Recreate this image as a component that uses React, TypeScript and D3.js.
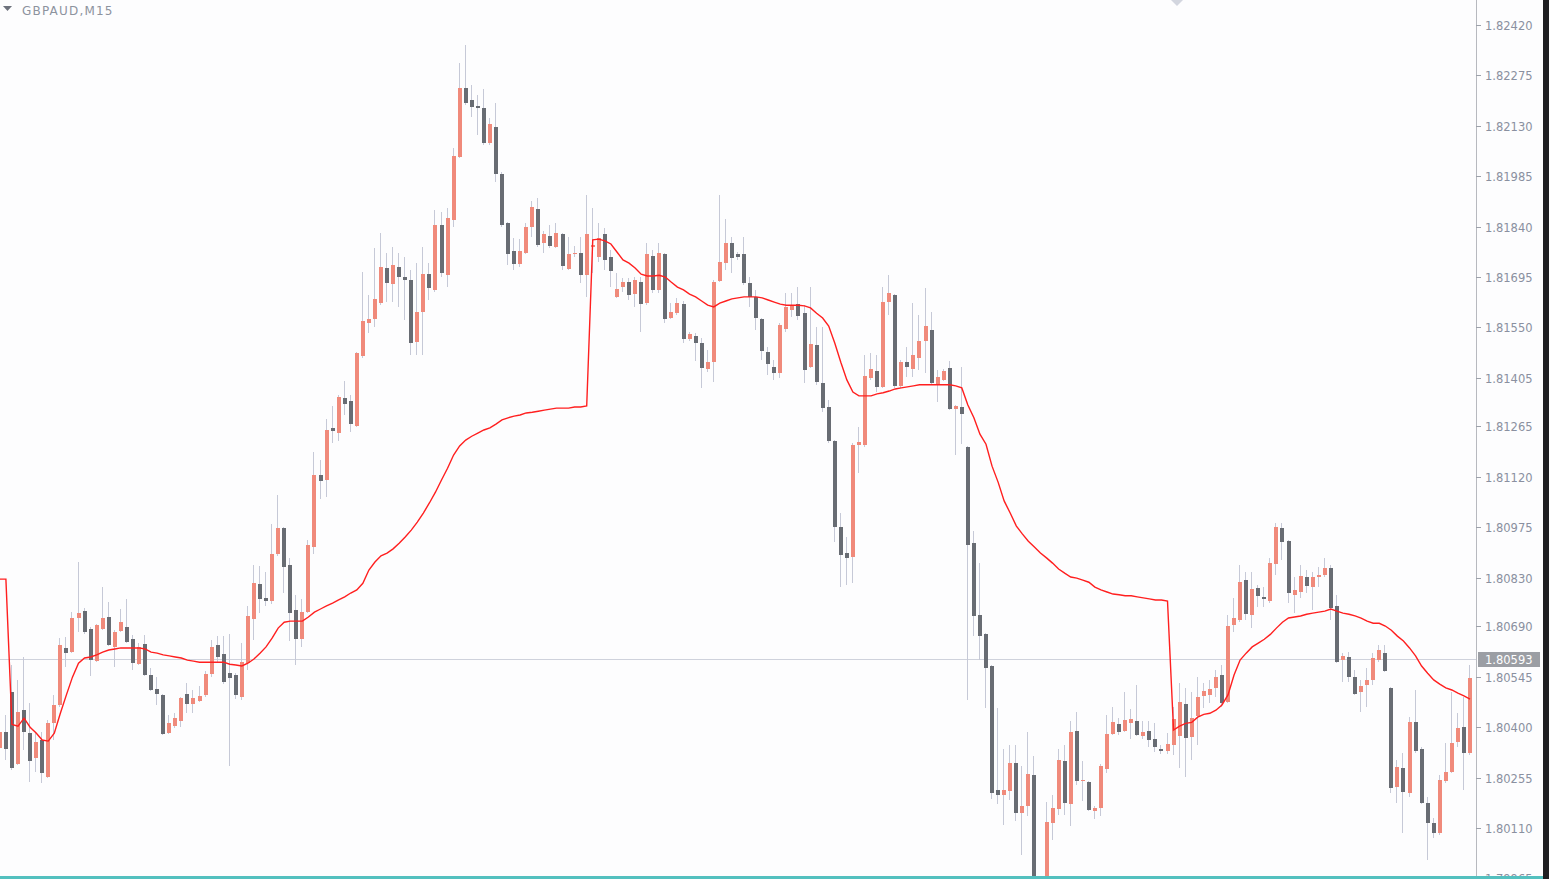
import React from "react";
import * as d3 from "d3";

// ---- chart values (GBPAUD, M15) ----
const SYMBOL = "GBPAUD,M15";
const PRICE_TICKS = [
  "1.82420", "1.82275", "1.82130", "1.81985", "1.81840", "1.81695", "1.81550",
  "1.81405", "1.81265", "1.81120", "1.80975", "1.80830", "1.80690", "1.80545",
  "1.80400", "1.80255", "1.80110", "1.79965",
];
const CURRENT_PRICE = 1.80593;

const OPEN = [
  1.80340, 1.80386, 1.80501, 1.80293, 1.80449, 1.80383, 1.80311, 1.80363, 1.80257, 1.80411,
  1.80464, 1.80628, 1.80616, 1.80714, 1.80734, 1.80682, 1.80590, 1.80682, 1.80717, 1.80631,
  1.80676, 1.80688, 1.80653, 1.80581, 1.80639, 1.80550, 1.80510, 1.80493, 1.80383, 1.80403,
  1.80417, 1.80495, 1.80466, 1.80475, 1.80493, 1.80552, 1.80637, 1.80610, 1.80555, 1.80550,
  1.80487, 1.80584, 1.80711, 1.80811, 1.80772, 1.80763, 1.80898, 1.80973, 1.80867, 1.80737,
  1.80653, 1.80731, 1.80918, 1.81126, 1.81111, 1.81261, 1.81246, 1.81347, 1.81338, 1.81267,
  1.81468, 1.81562, 1.81574, 1.81620, 1.81721, 1.81674, 1.81724, 1.81695, 1.81686, 1.81508,
  1.81594, 1.81703, 1.81658, 1.81845, 1.81700, 1.81859, 1.82041, 1.82239, 1.82204, 1.82187,
  1.82181, 1.82080, 1.82127, 1.81991, 1.81851, 1.81770, 1.81733, 1.81764, 1.81839, 1.81891,
  1.81793, 1.81813, 1.81782, 1.81818, 1.81718, 1.81761, 1.81764, 1.81700, 1.81782, 1.81753,
  1.81818, 1.81753, 1.81638, 1.81666, 1.81680, 1.81646, 1.81680, 1.81620, 1.81756, 1.81658,
  1.81761, 1.81577, 1.81591, 1.81617, 1.81517, 1.81526, 1.81505, 1.81430, 1.81450, 1.81683,
  1.81735, 1.81793, 1.81761, 1.81761, 1.81677, 1.81638, 1.81574, 1.81479, 1.81436, 1.81418,
  1.81545, 1.81600, 1.81617, 1.81591, 1.81436, 1.81499, 1.81390, 1.81321, 1.81223, 1.80976,
  1.80901, 1.80890, 1.81212, 1.81212, 1.81404, 1.81424, 1.81379, 1.81623, 1.81644, 1.81382,
  1.81450, 1.81430, 1.81462, 1.81511, 1.81543, 1.81387, 1.81399, 1.81433, 1.81315, 1.81321,
  1.81206, 1.80929, 1.80723, 1.80667, 1.80576, 1.80219, 1.80204, 1.80216, 1.80296, 1.80152,
  1.80173, 1.80263, 1.79937, 1.79917, 1.80124, 1.80164, 1.80302, 1.80178, 1.80389, 1.80245,
  1.80242, 1.80158, 1.80167, 1.80279, 1.80380, 1.80409, 1.80389, 1.80411, 1.80417, 1.80375,
  1.80389, 1.80366, 1.80337, 1.80331, 1.80348, 1.80375, 1.80466, 1.80372, 1.80432, 1.80490,
  1.80493, 1.80513, 1.80550, 1.80472, 1.80694, 1.80708, 1.80823, 1.80723, 1.80800, 1.80775,
  1.80763, 1.80869, 1.80973, 1.80935, 1.80781, 1.80789, 1.80832, 1.80803, 1.80832, 1.80838,
  1.80858, 1.80749, 1.80593, 1.80602, 1.80544, 1.80501, 1.80522, 1.80536, 1.80593, 1.80613,
  1.80513, 1.80228, 1.80282, 1.80210, 1.80414, 1.80337, 1.80181, 1.80124, 1.80095, 1.80245,
  1.80271, 1.80357, 1.80400, 1.80325,
];

const HIGH = [
  1.80400, 1.80435, 1.80579, 1.80536, 1.80602, 1.80469, 1.80386, 1.80386, 1.80420, 1.80493,
  1.80656, 1.80659, 1.80731, 1.80875, 1.80743, 1.80688, 1.80696, 1.80803, 1.80760, 1.80679,
  1.80740, 1.80769, 1.80665, 1.80642, 1.80665, 1.80570, 1.80544, 1.80495, 1.80435, 1.80440,
  1.80487, 1.80527, 1.80507, 1.80519, 1.80561, 1.80651, 1.80662, 1.80662, 1.80667, 1.80555,
  1.80642, 1.80749, 1.80867, 1.80864, 1.80846, 1.80984, 1.81068, 1.80976, 1.80887, 1.80781,
  1.80769, 1.80938, 1.81191, 1.81168, 1.81286, 1.81324, 1.81356, 1.81396, 1.81356, 1.81479,
  1.81709, 1.81644, 1.81779, 1.81821, 1.81764, 1.81782, 1.81764, 1.81753, 1.81715, 1.81735,
  1.81782, 1.81735, 1.81888, 1.81882, 1.81894, 1.82066, 1.82310, 1.82363, 1.82248, 1.82219,
  1.82236, 1.82153, 1.82195, 1.81997, 1.81853, 1.81807, 1.81804, 1.81850, 1.81914, 1.81922,
  1.81827, 1.81845, 1.81851, 1.81821, 1.81810, 1.81785, 1.81810, 1.81931, 1.81894, 1.81851,
  1.81836, 1.81773, 1.81706, 1.81692, 1.81692, 1.81695, 1.81695, 1.81793, 1.81773, 1.81793,
  1.81764, 1.81620, 1.81635, 1.81626, 1.81537, 1.81534, 1.81520, 1.81485, 1.81686, 1.81931,
  1.81862, 1.81810, 1.81767, 1.81810, 1.81695, 1.81658, 1.81577, 1.81494, 1.81456, 1.81562,
  1.81649, 1.81649, 1.81666, 1.81614, 1.81666, 1.81551, 1.81551, 1.81341, 1.81226, 1.81016,
  1.80947, 1.81217, 1.81264, 1.81471, 1.81476, 1.81471, 1.81666, 1.81700, 1.81646, 1.81456,
  1.81494, 1.81620, 1.81586, 1.81663, 1.81594, 1.81427, 1.81430, 1.81453, 1.81327, 1.81436,
  1.81209, 1.80964, 1.80872, 1.80670, 1.80579, 1.80455, 1.80337, 1.80348, 1.80348, 1.80288,
  1.80386, 1.80317, 1.79954, 1.80184, 1.80204, 1.80337, 1.80348, 1.80417, 1.80443, 1.80302,
  1.80245, 1.80173, 1.80293, 1.80435, 1.80458, 1.80426, 1.80501, 1.80452, 1.80522, 1.80417,
  1.80417, 1.80411, 1.80348, 1.80383, 1.80458, 1.80527, 1.80513, 1.80501, 1.80544, 1.80527,
  1.80536, 1.80564, 1.80579, 1.80723, 1.80772, 1.80867, 1.80846, 1.80846, 1.80809, 1.80803,
  1.80887, 1.80987, 1.80987, 1.80938, 1.80832, 1.80867, 1.80852, 1.80846, 1.80861, 1.80887,
  1.80867, 1.80781, 1.80613, 1.80616, 1.80564, 1.80536, 1.80570, 1.80613, 1.80637, 1.80637,
  1.80516, 1.80305, 1.80325, 1.80429, 1.80507, 1.80343, 1.80199, 1.80138, 1.80263, 1.80354,
  1.80501, 1.80440, 1.80487, 1.80579,
];

const LOW = [
  1.80328, 1.80305, 1.80277, 1.80291, 1.80334, 1.80242, 1.80271, 1.80239, 1.80254, 1.80363,
  1.80458, 1.80573, 1.80613, 1.80673, 1.80667, 1.80547, 1.80587, 1.80679, 1.80634, 1.80573,
  1.80673, 1.80642, 1.80564, 1.80579, 1.80547, 1.80504, 1.80464, 1.80378, 1.80380, 1.80397,
  1.80400, 1.80440, 1.80440, 1.80472, 1.80487, 1.80544, 1.80584, 1.80524, 1.80288, 1.80481,
  1.80478, 1.80564, 1.80651, 1.80728, 1.80749, 1.80754, 1.80893, 1.80786, 1.80648, 1.80579,
  1.80631, 1.80728, 1.80898, 1.81056, 1.81062, 1.81217, 1.81223, 1.81298, 1.81249, 1.81264,
  1.81462, 1.81534, 1.81551, 1.81614, 1.81623, 1.81623, 1.81609, 1.81571, 1.81471, 1.81471,
  1.81471, 1.81629, 1.81652, 1.81695, 1.81666, 1.81839, 1.82038, 1.82190, 1.82156, 1.82104,
  1.82075, 1.82075, 1.81968, 1.81839, 1.81730, 1.81715, 1.81724, 1.81761, 1.81810, 1.81782,
  1.81764, 1.81779, 1.81779, 1.81715, 1.81715, 1.81753, 1.81677, 1.81638, 1.81706, 1.81738,
  1.81715, 1.81666, 1.81635, 1.81652, 1.81629, 1.81609, 1.81537, 1.81614, 1.81649, 1.81649,
  1.81562, 1.81574, 1.81586, 1.81505, 1.81511, 1.81453, 1.81376, 1.81421, 1.81393, 1.81680,
  1.81715, 1.81706, 1.81744, 1.81672, 1.81609, 1.81543, 1.81456, 1.81413, 1.81399, 1.81404,
  1.81537, 1.81580, 1.81571, 1.81390, 1.81433, 1.81385, 1.81306, 1.81217, 1.80932, 1.80803,
  1.80809, 1.80814, 1.81131, 1.81206, 1.81399, 1.81364, 1.81376, 1.81586, 1.81376, 1.81376,
  1.81407, 1.81407, 1.81427, 1.81418, 1.81385, 1.81335, 1.81396, 1.81312, 1.81183, 1.81214,
  1.80478, 1.80662, 1.80593, 1.80455, 1.80193, 1.80178, 1.80119, 1.80190, 1.80130, 1.80032,
  1.80144, 1.79902, 1.79888, 1.79902, 1.80075, 1.80147, 1.80147, 1.80116, 1.80234, 1.80187,
  1.80158, 1.80135, 1.80144, 1.80268, 1.80378, 1.80378, 1.80386, 1.80366, 1.80375, 1.80366,
  1.80343, 1.80328, 1.80322, 1.80322, 1.80320, 1.80282, 1.80257, 1.80305, 1.80348, 1.80455,
  1.80469, 1.80487, 1.80458, 1.80469, 1.80673, 1.80702, 1.80708, 1.80685, 1.80746, 1.80746,
  1.80757, 1.80838, 1.80881, 1.80757, 1.80728, 1.80772, 1.80786, 1.80737, 1.80803, 1.80832,
  1.80708, 1.80584, 1.80530, 1.80530, 1.80493, 1.80443, 1.80458, 1.80522, 1.80587, 1.80558,
  1.80210, 1.80181, 1.80095, 1.80199, 1.80325, 1.80178, 1.80018, 1.80081, 1.80089, 1.80239,
  1.80268, 1.80343, 1.80219, 1.80320,
];

const CLOSE = [
  1.80386, 1.80337, 1.80282, 1.80443, 1.80386, 1.80302, 1.80357, 1.80268, 1.80411, 1.80464,
  1.80637, 1.80613, 1.80714, 1.80728, 1.80673, 1.80593, 1.80694, 1.80714, 1.80637, 1.80673,
  1.80702, 1.80645, 1.80584, 1.80631, 1.80550, 1.80507, 1.80495, 1.80380, 1.80411, 1.80426,
  1.80484, 1.80466, 1.80484, 1.80490, 1.80552, 1.80631, 1.80602, 1.80530, 1.80541, 1.80493,
  1.80587, 1.80720, 1.80814, 1.80769, 1.80763, 1.80898, 1.80973, 1.80861, 1.80728, 1.80653,
  1.80731, 1.80924, 1.81126, 1.81108, 1.81255, 1.81252, 1.81350, 1.81329, 1.81272, 1.81476,
  1.81568, 1.81574, 1.81632, 1.81724, 1.81677, 1.81730, 1.81695, 1.81686, 1.81505, 1.81594,
  1.81703, 1.81663, 1.81845, 1.81706, 1.81865, 1.82044, 1.82239, 1.82195, 1.82184, 1.82181,
  1.82080, 1.82135, 1.81991, 1.81845, 1.81761, 1.81733, 1.81770, 1.81839, 1.81897, 1.81788,
  1.81818, 1.81785, 1.81821, 1.81727, 1.81761, 1.81764, 1.81700, 1.81818, 1.81788, 1.81807,
  1.81744, 1.81712, 1.81660, 1.81680, 1.81644, 1.81686, 1.81617, 1.81761, 1.81658, 1.81764,
  1.81574, 1.81594, 1.81620, 1.81517, 1.81531, 1.81505, 1.81433, 1.81450, 1.81680, 1.81738,
  1.81793, 1.81750, 1.81753, 1.81677, 1.81638, 1.81577, 1.81482, 1.81444, 1.81418, 1.81557,
  1.81609, 1.81612, 1.81583, 1.81427, 1.81502, 1.81393, 1.81318, 1.81223, 1.80976, 1.80896,
  1.80887, 1.81212, 1.81220, 1.81410, 1.81430, 1.81379, 1.81623, 1.81649, 1.81382, 1.81450,
  1.81436, 1.81471, 1.81511, 1.81554, 1.81390, 1.81407, 1.81424, 1.81315, 1.81324, 1.81301,
  1.80924, 1.80720, 1.80662, 1.80570, 1.80210, 1.80204, 1.80219, 1.80296, 1.80152, 1.80173,
  1.80265, 1.79931, 1.79911, 1.80127, 1.80167, 1.80305, 1.80181, 1.80386, 1.80245, 1.80248,
  1.80161, 1.80167, 1.80288, 1.80380, 1.80414, 1.80386, 1.80420, 1.80423, 1.80378, 1.80386,
  1.80363, 1.80343, 1.80331, 1.80351, 1.80423, 1.80472, 1.80369, 1.80426, 1.80487, 1.80504,
  1.80510, 1.80544, 1.80469, 1.80691, 1.80714, 1.80817, 1.80725, 1.80797, 1.80778, 1.80769,
  1.80872, 1.80976, 1.80932, 1.80786, 1.80795, 1.80835, 1.80806, 1.80832, 1.80838, 1.80858,
  1.80743, 1.80587, 1.80605, 1.80544, 1.80495, 1.80519, 1.80536, 1.80599, 1.80622, 1.80561,
  1.80225, 1.80285, 1.80213, 1.80414, 1.80331, 1.80181, 1.80124, 1.80095, 1.80248, 1.80271,
  1.80354, 1.80397, 1.80325, 1.80541,
];

// daily VWAP indicator (red line)
const VWAP = [
  1.80826, 1.80826, 1.80408, 1.80403, 1.80426, 1.80400, 1.80383, 1.80363, 1.80360, 1.80383,
  1.80440, 1.80493, 1.80544, 1.80584, 1.80599, 1.80602, 1.80608, 1.80616, 1.80622, 1.80625,
  1.80628, 1.80628, 1.80628, 1.80628, 1.80625, 1.80616, 1.80613, 1.80608, 1.80605, 1.80602,
  1.80599, 1.80593, 1.80590, 1.80587, 1.80587, 1.80587, 1.80587, 1.80587, 1.80581, 1.80579,
  1.80576, 1.80584, 1.80596, 1.80613, 1.80631, 1.80656, 1.80685, 1.80702, 1.80705, 1.80705,
  1.80705, 1.80717, 1.80731, 1.80740, 1.80749, 1.80757, 1.80766, 1.80775, 1.80786, 1.80795,
  1.80814, 1.80852, 1.80875, 1.80893, 1.80901, 1.80913, 1.80929, 1.80947, 1.80967, 1.80990,
  1.81016, 1.81045, 1.81076, 1.81111, 1.81145, 1.81183, 1.81209, 1.81226, 1.81237, 1.81246,
  1.81255, 1.81261, 1.81272, 1.81284, 1.81290, 1.81295, 1.81298, 1.81304, 1.81306, 1.81309,
  1.81312, 1.81315, 1.81318, 1.81318, 1.81318, 1.81321, 1.81321, 1.81324, 1.81802, 1.81804,
  1.81799, 1.81790, 1.81767, 1.81744, 1.81735, 1.81721, 1.81703, 1.81698, 1.81698, 1.81700,
  1.81695, 1.81680, 1.81666, 1.81658, 1.81646, 1.81638, 1.81626, 1.81614, 1.81609, 1.81620,
  1.81626, 1.81632, 1.81635, 1.81638, 1.81638, 1.81638, 1.81635, 1.81629, 1.81623, 1.81617,
  1.81614, 1.81614, 1.81614, 1.81612, 1.81606, 1.81591, 1.81577, 1.81554, 1.81505, 1.81450,
  1.81399, 1.81364, 1.81353, 1.81353, 1.81353, 1.81359, 1.81362, 1.81367, 1.81373, 1.81376,
  1.81379, 1.81382, 1.81385, 1.81385, 1.81385, 1.81385, 1.81385, 1.81385, 1.81382, 1.81376,
  1.81327, 1.81290, 1.81243, 1.81214, 1.81151, 1.81105, 1.81051, 1.81016, 1.80979, 1.80956,
  1.80935, 1.80918, 1.80901, 1.80887, 1.80872, 1.80855, 1.80843, 1.80832, 1.80829, 1.80823,
  1.80817, 1.80803, 1.80795, 1.80789, 1.80783, 1.80781, 1.80778, 1.80778, 1.80775, 1.80772,
  1.80769, 1.80766, 1.80766, 1.80763, 1.80392, 1.80403, 1.80411, 1.80414, 1.80429, 1.80437,
  1.80440, 1.80449, 1.80464, 1.80493, 1.80550, 1.80593, 1.80613, 1.80631, 1.80642, 1.80653,
  1.80667, 1.80685, 1.80702, 1.80714, 1.80717, 1.80720, 1.80725, 1.80728, 1.80731, 1.80734,
  1.80740, 1.80734, 1.80728, 1.80725, 1.80720, 1.80714, 1.80705, 1.80699, 1.80699, 1.80691,
  1.80679, 1.80662, 1.80648, 1.80628, 1.80605, 1.80576, 1.80555, 1.80536, 1.80524, 1.80513,
  1.80507, 1.80498, 1.80490, 1.80481,
];

// ---- colours ----
const BULL = "#f08a7b";
const BEAR = "#686c73";
const WICK = "#c6c9d7";
const VWAP_COLOR = "#ff1f1f";

export default function App() {
  const W = 1549;
  const H = 879;
  const plotRight = 1476;
  const plotBottom = 876;
  const n = OPEN.length;
  const step = 6.05;
  const lastX = 1470;

  const x = d3.scaleLinear().domain([0, n - 1]).range([lastX - (n - 1) * step, lastX]);
  const y = d3.scaleLinear().domain([1.8011, 1.8242]).range([828, 25]);

  const vwapPath = d3
    .line<number>()
    .x((_, i) => x(i))
    .y((d) => y(d))(VWAP) as string;

  const bars = OPEN.map((o, i) => {
    const c = CLOSE[i];
    const bull = c >= o;
    const cx = Math.round(x(i));
    const top = Math.round(y(Math.max(o, c)));
    const bot = Math.round(y(Math.min(o, c)));
    return {
      key: i,
      cx,
      hy: Math.round(y(HIGH[i])),
      ly: Math.round(y(LOW[i])),
      top,
      h: Math.max(1, bot - top),
      bull,
    };
  });

  const curY = Math.round(y(CURRENT_PRICE)) - 0.5;

  return (
    <svg
      width={W}
      height={H}
      viewBox={`0 0 ${W} ${H}`}
      style={{ position: "absolute", left: 0, top: 0, display: "block" }}
      fontFamily="DejaVu Sans, Verdana, sans-serif"
    >
      <defs>
        <clipPath id="plot">
          <rect x={0} y={0} width={plotRight} height={plotBottom} />
        </clipPath>
      </defs>
      <rect x={0} y={0} width={W} height={H} fill="#fdfdfe" />

      {/* current price line */}
      <line x1={0} x2={plotRight} y1={curY} y2={curY} stroke="#cfd2dc" strokeWidth={1} />

      <g clipPath="url(#plot)">
        {bars.map((b) => (
          <g key={b.key}>
            <line
              x1={b.cx - 0.5}
              x2={b.cx - 0.5}
              y1={b.hy}
              y2={b.ly}
              stroke={WICK}
              strokeWidth={1}
            />
            <rect x={b.cx - 2} y={b.top} width={4} height={b.h} fill={b.bull ? BULL : BEAR} />
          </g>
        ))}
        <path d={vwapPath} fill="none" stroke={VWAP_COLOR} strokeWidth={1.4} />
      </g>

      {/* title */}
      <path d="M3,6 L12,6 L7.5,11 Z" fill="#6d727c" />
      <text x={22} y={15} fontSize={12} fill="#8d939e" letterSpacing={1.2}>
        {SYMBOL}
      </text>
      {/* shift marker */}
      <path d="M1171,0 L1183,0 L1177,6 Z" fill="#d3d6df" />

      {/* price axis */}
      <line x1={plotRight + 0.5} x2={plotRight + 0.5} y1={0} y2={H} stroke="#b7b9bf" strokeWidth={1} />
      {PRICE_TICKS.map((t) => {
        const ty = Math.round(y(+t)) + 0.5;
        return (
          <g key={t}>
            <line x1={plotRight} x2={plotRight + 5} y1={ty} y2={ty} stroke="#9da1aa" />
            <text x={1485} y={ty} dy="0.36em" fontSize={11.5} fill="#8a90a0">
              {t}
            </text>
          </g>
        );
      })}
      <rect x={plotRight + 2} y={curY - 7.5} width={62} height={15} fill="#9b9ea4" />
      <text x={1485} y={curY} dy="0.36em" fontSize={11.5} fill="#ffffff">
        {CURRENT_PRICE.toFixed(5)}
      </text>

      {/* bottom border */}
      <rect x={0} y={plotBottom} width={W} height={H - plotBottom} fill="#53c0bf" />
      {/* right window edge */}
      <rect x={1543} y={0} width={W - 1543} height={H} fill="#1f1f22" />
    </svg>
  );
}
